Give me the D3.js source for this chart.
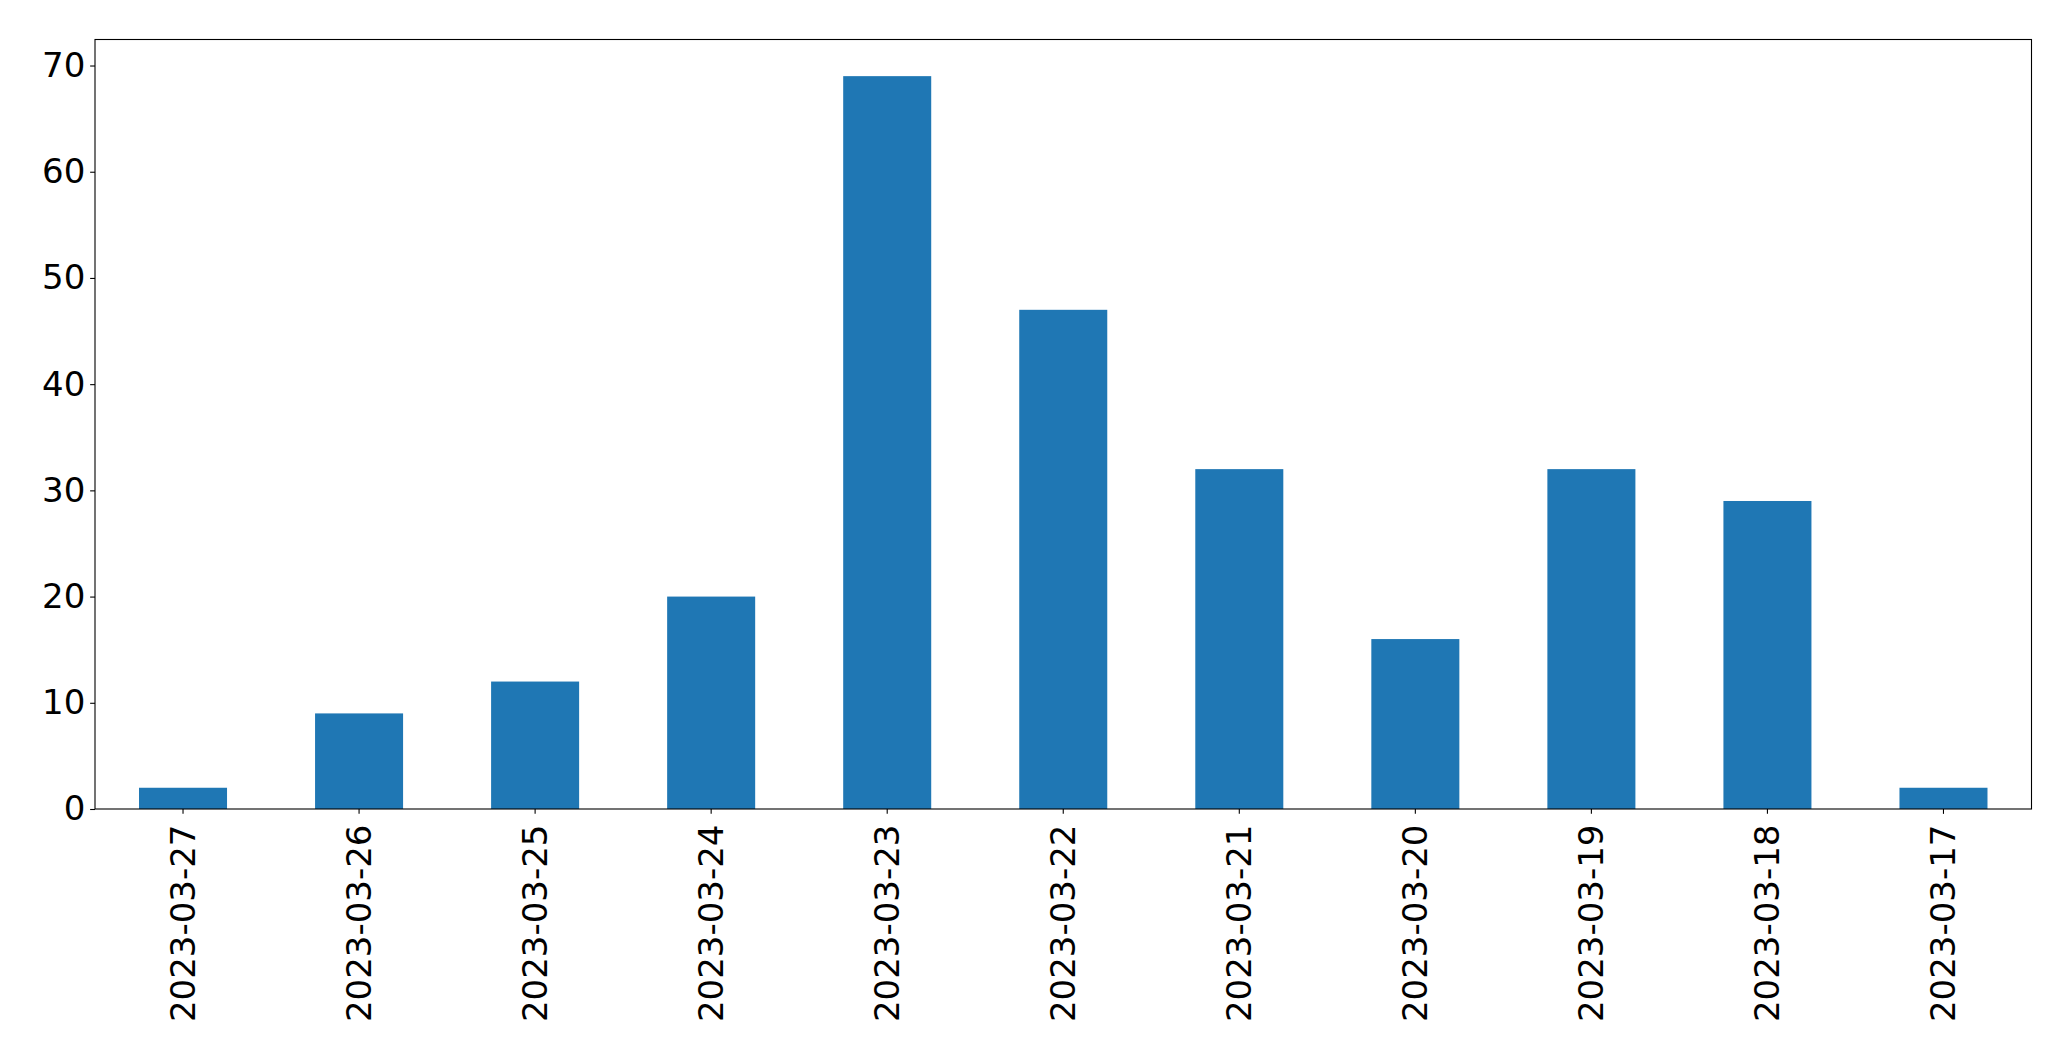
<!DOCTYPE html>
<html><head><meta charset="utf-8">
<script src="https://cdn.jsdelivr.net/npm/d3@7"></script>
<style>body{margin:0;background:#fff}svg{display:block}</style>
</head><body>
<script>
const categories = ["2023-03-27","2023-03-26","2023-03-25","2023-03-24","2023-03-23","2023-03-22","2023-03-21","2023-03-20","2023-03-19","2023-03-18","2023-03-17"];
const values = [2, 9, 12, 20, 69, 47, 32, 16, 32, 29, 2];
const yTicks = [0, 10, 20, 30, 40, 50, 60, 70];

const W = 2071, H = 1061;
const m = {left: 95, right: 2031.5, top: 39.5, bottom: 809};
const fs = 34;
const svg = d3.select("body").append("svg").attr("width", W).attr("height", H);

const x = d3.scaleBand().domain(categories).range([m.left, m.right]).paddingInner(0.5).paddingOuter(0.25);
const y = d3.scaleLinear().domain([0, d3.max(values) * 1.05]).range([m.bottom, m.top]);

svg.append("g").selectAll("rect").data(values).join("rect")
  .attr("x", (d, i) => x(categories[i]))
  .attr("width", x.bandwidth())
  .attr("y", d => y(d))
  .attr("height", d => y(0) - y(d))
  .attr("fill", "#1f77b4");

const font = "'DejaVu Sans', sans-serif";

const ya = svg.append("g").attr("transform", `translate(${m.left},0)`)
  .call(d3.axisLeft(y).tickValues(yTicks).tickSize(4.86).tickPadding(4.86).tickFormat(d3.format("d")));
ya.select(".domain").remove();
ya.selectAll("text").style("font-family", font).style("font-size", fs + "px").attr("fill", "#000");
ya.selectAll("line").attr("stroke", "#000").attr("stroke-width", 1.1);

const xa = svg.append("g").attr("transform", `translate(0,${m.bottom})`)
  .call(d3.axisBottom(x).tickSize(4.86).tickPadding(4.86));
xa.select(".domain").remove();
xa.selectAll("line").attr("stroke", "#000").attr("stroke-width", 1.1);
xa.selectAll("text")
  .style("font-family", font).style("font-size", fs + "px").attr("fill", "#000")
  .attr("transform", "rotate(-90)")
  .attr("x", -15.5).attr("y", 0).attr("dy", "0.35em")
  .attr("text-anchor", "end");

svg.append("rect").attr("x", m.left).attr("y", m.top)
  .attr("width", m.right - m.left).attr("height", m.bottom - m.top)
  .attr("fill", "none").attr("stroke", "#000").attr("stroke-width", 1.1);
</script>
</body></html>
